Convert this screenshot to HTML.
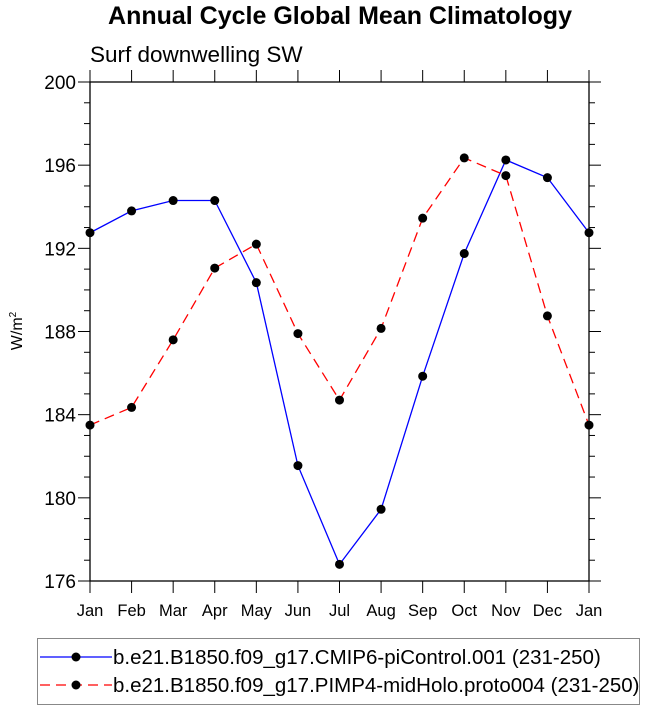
<!DOCTYPE html>
<html><head><meta charset="utf-8"><style>
body{margin:0;background:#fff;font-family:"Liberation Sans",sans-serif}
</style></head><body>
<svg width="647" height="710" xmlns="http://www.w3.org/2000/svg" font-family="Liberation Sans, sans-serif">
<text x="340" y="24" text-anchor="middle" font-size="25" font-weight="bold">Annual Cycle Global Mean Climatology</text>
<text x="90" y="62" font-size="22.5">Surf downwelling SW</text>
<text transform="translate(22,331) rotate(-90)" text-anchor="middle" font-size="16">W/m<tspan dy="-6" font-size="10">2</tspan></text>
<g id="axes"></g>
<g id="series"></g>
<g>
<rect x="37.5" y="638.5" width="602" height="66" fill="none" stroke="#888" stroke-width="1"/>
<line x1="40" y1="657" x2="112" y2="657" stroke="#00f" stroke-width="1.3"/>
<circle cx="76" cy="657" r="4.5"/>
<text x="113" y="664" font-size="20.5">b.e21.B1850.f09_g17.CMIP6-piControl.001 (231-250)</text>
<line x1="40" y1="685" x2="112" y2="685" stroke="#f00" stroke-width="1.3" stroke-dasharray="10,6"/>
<circle cx="76" cy="685" r="4.5"/>
<text x="113" y="692" font-size="20.5">b.e21.B1850.f09_g17.PIMP4-midHolo.proto004 (231-250)</text>
</g>
</svg>
<script>
const months=["Jan","Feb","Mar","Apr","May","Jun","Jul","Aug","Sep","Oct","Nov","Dec","Jan"];
const yTicks=[176,180,184,188,192,196,200];
const piControl=[192.75,193.8,194.3,194.3,190.35,181.55,176.8,179.45,185.85,191.75,196.25,195.4,192.75];
const midHolo=[183.5,184.35,187.6,191.05,192.2,187.9,184.7,188.15,193.45,196.35,195.5,188.75,183.5];
const NS="http://www.w3.org/2000/svg";
const X0=90,X1=589,Y0=581,Y1=82,ymin=176,ymax=200;
function xs(i){return X0+(X1-X0)*i/(months.length-1);}
function ys(v){return Y0-(v-ymin)/(ymax-ymin)*(Y0-Y1);}
function mk(t,a,p){const e=document.createElementNS(NS,t);for(const k in a)e.setAttribute(k,a[k]);p.appendChild(e);return e;}
const ax=document.getElementById('axes');
const fr=mk('rect',{x:X0,y:Y1,width:X1-X0,height:Y0-Y1,fill:'none',stroke:'#000','stroke-width':1.3},ax);


for(let v=ymin;v<=ymax;v++){
  const y=ys(v),L=(v%4===0)?12:6;
  mk('line',{x1:X0-L,y1:y,x2:X0,y2:y,stroke:'#000'},ax);
  mk('line',{x1:X1,y1:y,x2:X1+L,y2:y,stroke:'#000'},ax);
}
yTicks.forEach(v=>{
  const t=mk('text',{x:X0-14,y:ys(v)+7,'text-anchor':'end','font-size':19},ax);
  t.textContent=v;
  
  
});
months.forEach((m,i)=>{
  const x=xs(i);
  mk('line',{x1:x,y1:Y0,x2:x,y2:Y0+12,stroke:'#000'},ax);
  mk('line',{x1:x,y1:Y1,x2:x,y2:Y1-12,stroke:'#000'},ax);
  const t=mk('text',{x:x,y:Y0+35,'text-anchor':'middle','font-size':16.5},ax);
  t.textContent=m;
  
  
});
const sg=document.getElementById('series');
function draw(vals,color,dash,name){
  const g=mk('g',{},sg);
  
  
  const p=mk('polyline',{points:vals.map((v,i)=>xs(i)+','+ys(v)).join(' '),fill:'none',stroke:color,'stroke-width':1.3,'stroke-dasharray':dash},g);
  
  
  vals.forEach((v,i)=>{
    const c=mk('circle',{cx:xs(i),cy:ys(v),r:4.5,fill:'#000'},g);
    
    
  });
}
draw(piControl,'#00f','none','series-picontrol');
draw(midHolo,'#f00','10,6','series-midholo');
</script>
</body></html>
